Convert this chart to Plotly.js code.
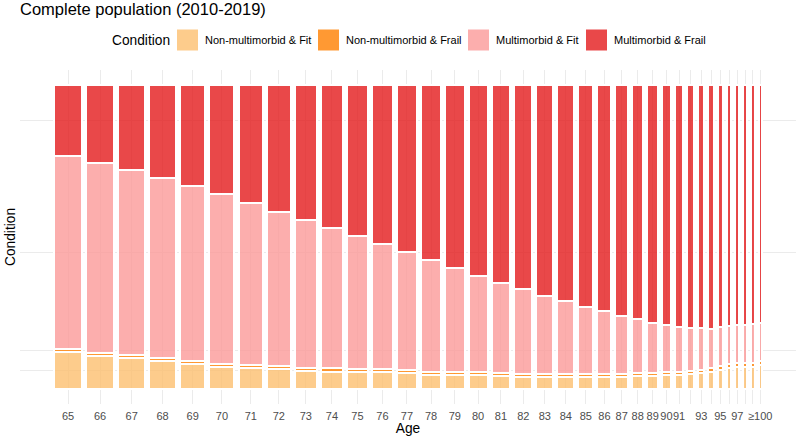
<!DOCTYPE html>
<html>
<head>
<meta charset="utf-8">
<script src="https://cdn.plot.ly/plotly-3.0.1.min.js"></script>
<style>html,body{margin:0;padding:0;background:#fff}#chart{width:796px;height:436px}</style>
</head>
<body>
<div id="chart"></div>
<script>
// ---------------- data ----------------
const ages = ['65','66','67','68','69','70','71','72','73','74','75','76','77','78','79','80','81','82','83','84','85','86','87','88','89','90','91','92','93','94','95','96','97','98','99','≥100'];
const tickLabels = ['65','66','67','68','69','70','71','72','73','74','75','76','77','78','79','80','81','82','83','84','85','86','87','88','89','90','91','','93','','95','','97','','','≥100'];
// relative population size of each age group (column width)
const populationShare = [26,26,25.3,24.5,23.6,23,22.5,21.5,20.5,19.8,19.3,18.7,18.2,18,17.5,17,16.8,15.8,15.2,14.8,13.2,12,10.5,9.5,8.5,7,6.3,5,4.2,3.5,2.8,2.6,2,1.6,1.6,1.4];
const conditions = ['Non-multimorbid & Fit','Non-multimorbid & Frail','Multimorbid & Fit','Multimorbid & Frail'];
// share (%) of each condition within each age group
const nonMultiFit   = [12.0,10.8,10.0,9.0,8.3,7.3,6.9,6.5,6.0,5.7,5.5,5.4,5.2,4.7,4.6,4.4,4.3,4.0,3.9,3.9,3.9,3.9,4.0,4.2,4.3,4.4,4.6,4.8,5.2,5.7,6.3,6.8,7.1,7.1,7.1,7.7];
const nonMultiFrail = [1.0,1.0,1.0,1.0,1.0,1.0,1.0,1.0,1.0,1.0,1.0,1.0,1.0,1.0,1.0,1.0,1.0,1.0,1.0,1.0,1.0,1.0,1.0,1.0,1.0,1.0,1.0,1.0,1.0,1.1,1.1,1.4,1.4,1.4,1.4,1.4];
const multiFit      = [63.6,62.5,61.0,59.5,57.4,55.8,53.3,50.7,48.6,46.3,43.8,41.3,38.9,36.7,34.2,31.8,29.6,27.9,25.7,24.0,22.0,20.8,19.0,17.7,16.5,15.7,14.9,14.2,13.7,12.9,12.8,12.4,12.5,12.5,12.7,12.7];
const multiFrail    = [23.4,25.7,28.0,30.5,33.3,35.9,38.8,41.8,44.4,47.0,49.7,52.3,54.9,57.6,60.2,62.8,65.1,67.1,69.4,71.1,73.1,74.3,76.0,77.1,78.2,78.9,79.5,80.0,80.1,80.3,79.8,79.4,79.0,79.0,78.8,78.2];

// ---------------- style ----------------
const W = 796, H = 436;
const M = {l: 20, r: 0, t: 70, b: 32};
const plotW = W - M.l - M.r, plotH = H - M.t - M.b;
const colors = ['rgba(253,191,111,0.8)','rgba(255,127,0,0.8)','rgba(251,154,153,0.8)','rgba(227,26,28,0.8)'];
const COLUMN_GAP = 6;   // spacing between columns
const OUTLINE = 2;      // white outline between tiles
const FONT = 'Liberation Sans, Arial, sans-serif';

// mosaic column geometry derived from the population shares
const centers = [], widths = [];
let cursor = 0;
populationShare.forEach(w => {
  const slot = w + COLUMN_GAP;
  centers.push(cursor + slot / 2);
  widths.push(w + OUTLINE);
  cursor += slot;
});
const total = cursor;
const pad = total * 0.045;

const series = [nonMultiFit, nonMultiFrail, multiFit, multiFrail];
const traces = series.map((s, i) => ({
  type: 'bar', x: centers, y: s, width: widths, name: conditions[i],
  customdata: ages, hovertemplate: 'Age %{customdata}: %{y}%<extra>' + conditions[i] + '</extra>',
  marker: {color: colors[i], line: {color: '#ffffff', width: OUTLINE}},
  showlegend: false
}));

// y breaks at the middle of each tile of the first column (as in ggmosaic)
const yTicks = [];
let acc = 0;
series.forEach(s => { yTicks.push(acc + s[0] / 2); acc += s[0]; });

// manual legend (ggplot-style keys)
const KEY = 21, KEY_CY = 40;
const keyLeft = [177, 318, 468, 586];
const px2x = p => (p - M.l) / plotW;
const px2y = p => (M.t + plotH - p) / plotH;
const shapes = [], annotations = [];
annotations.push({xref: 'paper', yref: 'paper', x: px2x(111), y: px2y(KEY_CY), xanchor: 'left', yanchor: 'middle',
  text: 'Condition', showarrow: false, borderpad: 0, font: {size: 13.75, color: '#000', family: FONT}});
conditions.forEach((c, i) => {
  shapes.push({type: 'rect', xref: 'paper', yref: 'paper', x0: px2x(keyLeft[i]), x1: px2x(keyLeft[i] + KEY),
    y0: px2y(KEY_CY + KEY / 2), y1: px2y(KEY_CY - KEY / 2), fillcolor: colors[i], line: {width: 0}});
  annotations.push({xref: 'paper', yref: 'paper', x: px2x(keyLeft[i] + KEY + 6), y: px2y(KEY_CY), xanchor: 'left', yanchor: 'middle',
    text: c, showarrow: false, borderpad: 0, font: {size: 11, color: '#000', family: FONT}});
});

const layout = {
  width: W, height: H,
  margin: {l: M.l, r: M.r, t: M.t, b: M.b, pad: 0},
  paper_bgcolor: '#ffffff', plot_bgcolor: '#ffffff',
  barmode: 'stack',
  font: {family: FONT, color: '#000'},
  showlegend: false,
  title: {text: 'Complete population (2010-2019)', font: {size: 16.5, color: '#000', family: FONT},
    xref: 'container', yref: 'container', x: M.l / W, xanchor: 'left', y: 0.993, yanchor: 'top', pad: {t: 0, l: 0}},
  xaxis: {
    range: [-pad, total + pad], tickmode: 'array', tickvals: centers, ticktext: tickLabels, tickangle: 0,
    showgrid: true, gridcolor: '#EBEBEB', gridwidth: 1, zeroline: false, showline: false, ticks: '',
    tickfont: {size: 11, color: '#4D4D4D', family: FONT}, ticklabelstandoff: 4,
    title: {text: 'Age', font: {size: 13.75, color: '#000', family: FONT}, standoff: 4},
    automargin: false, fixedrange: true
  },
  yaxis: {
    range: [-5, 105], tickmode: 'array', tickvals: yTicks, ticktext: yTicks.map(() => ''),
    showgrid: true, gridcolor: '#EBEBEB', gridwidth: 1, zeroline: false, showline: false, ticks: '',
    title: {text: 'Condition', font: {size: 13.75, color: '#000', family: FONT}, standoff: 0},
    automargin: false, fixedrange: true
  },
  shapes: shapes,
  annotations: annotations
};

Plotly.newPlot('chart', traces, layout, {displayModeBar: false, staticPlot: true});
</script>
</body>
</html>
